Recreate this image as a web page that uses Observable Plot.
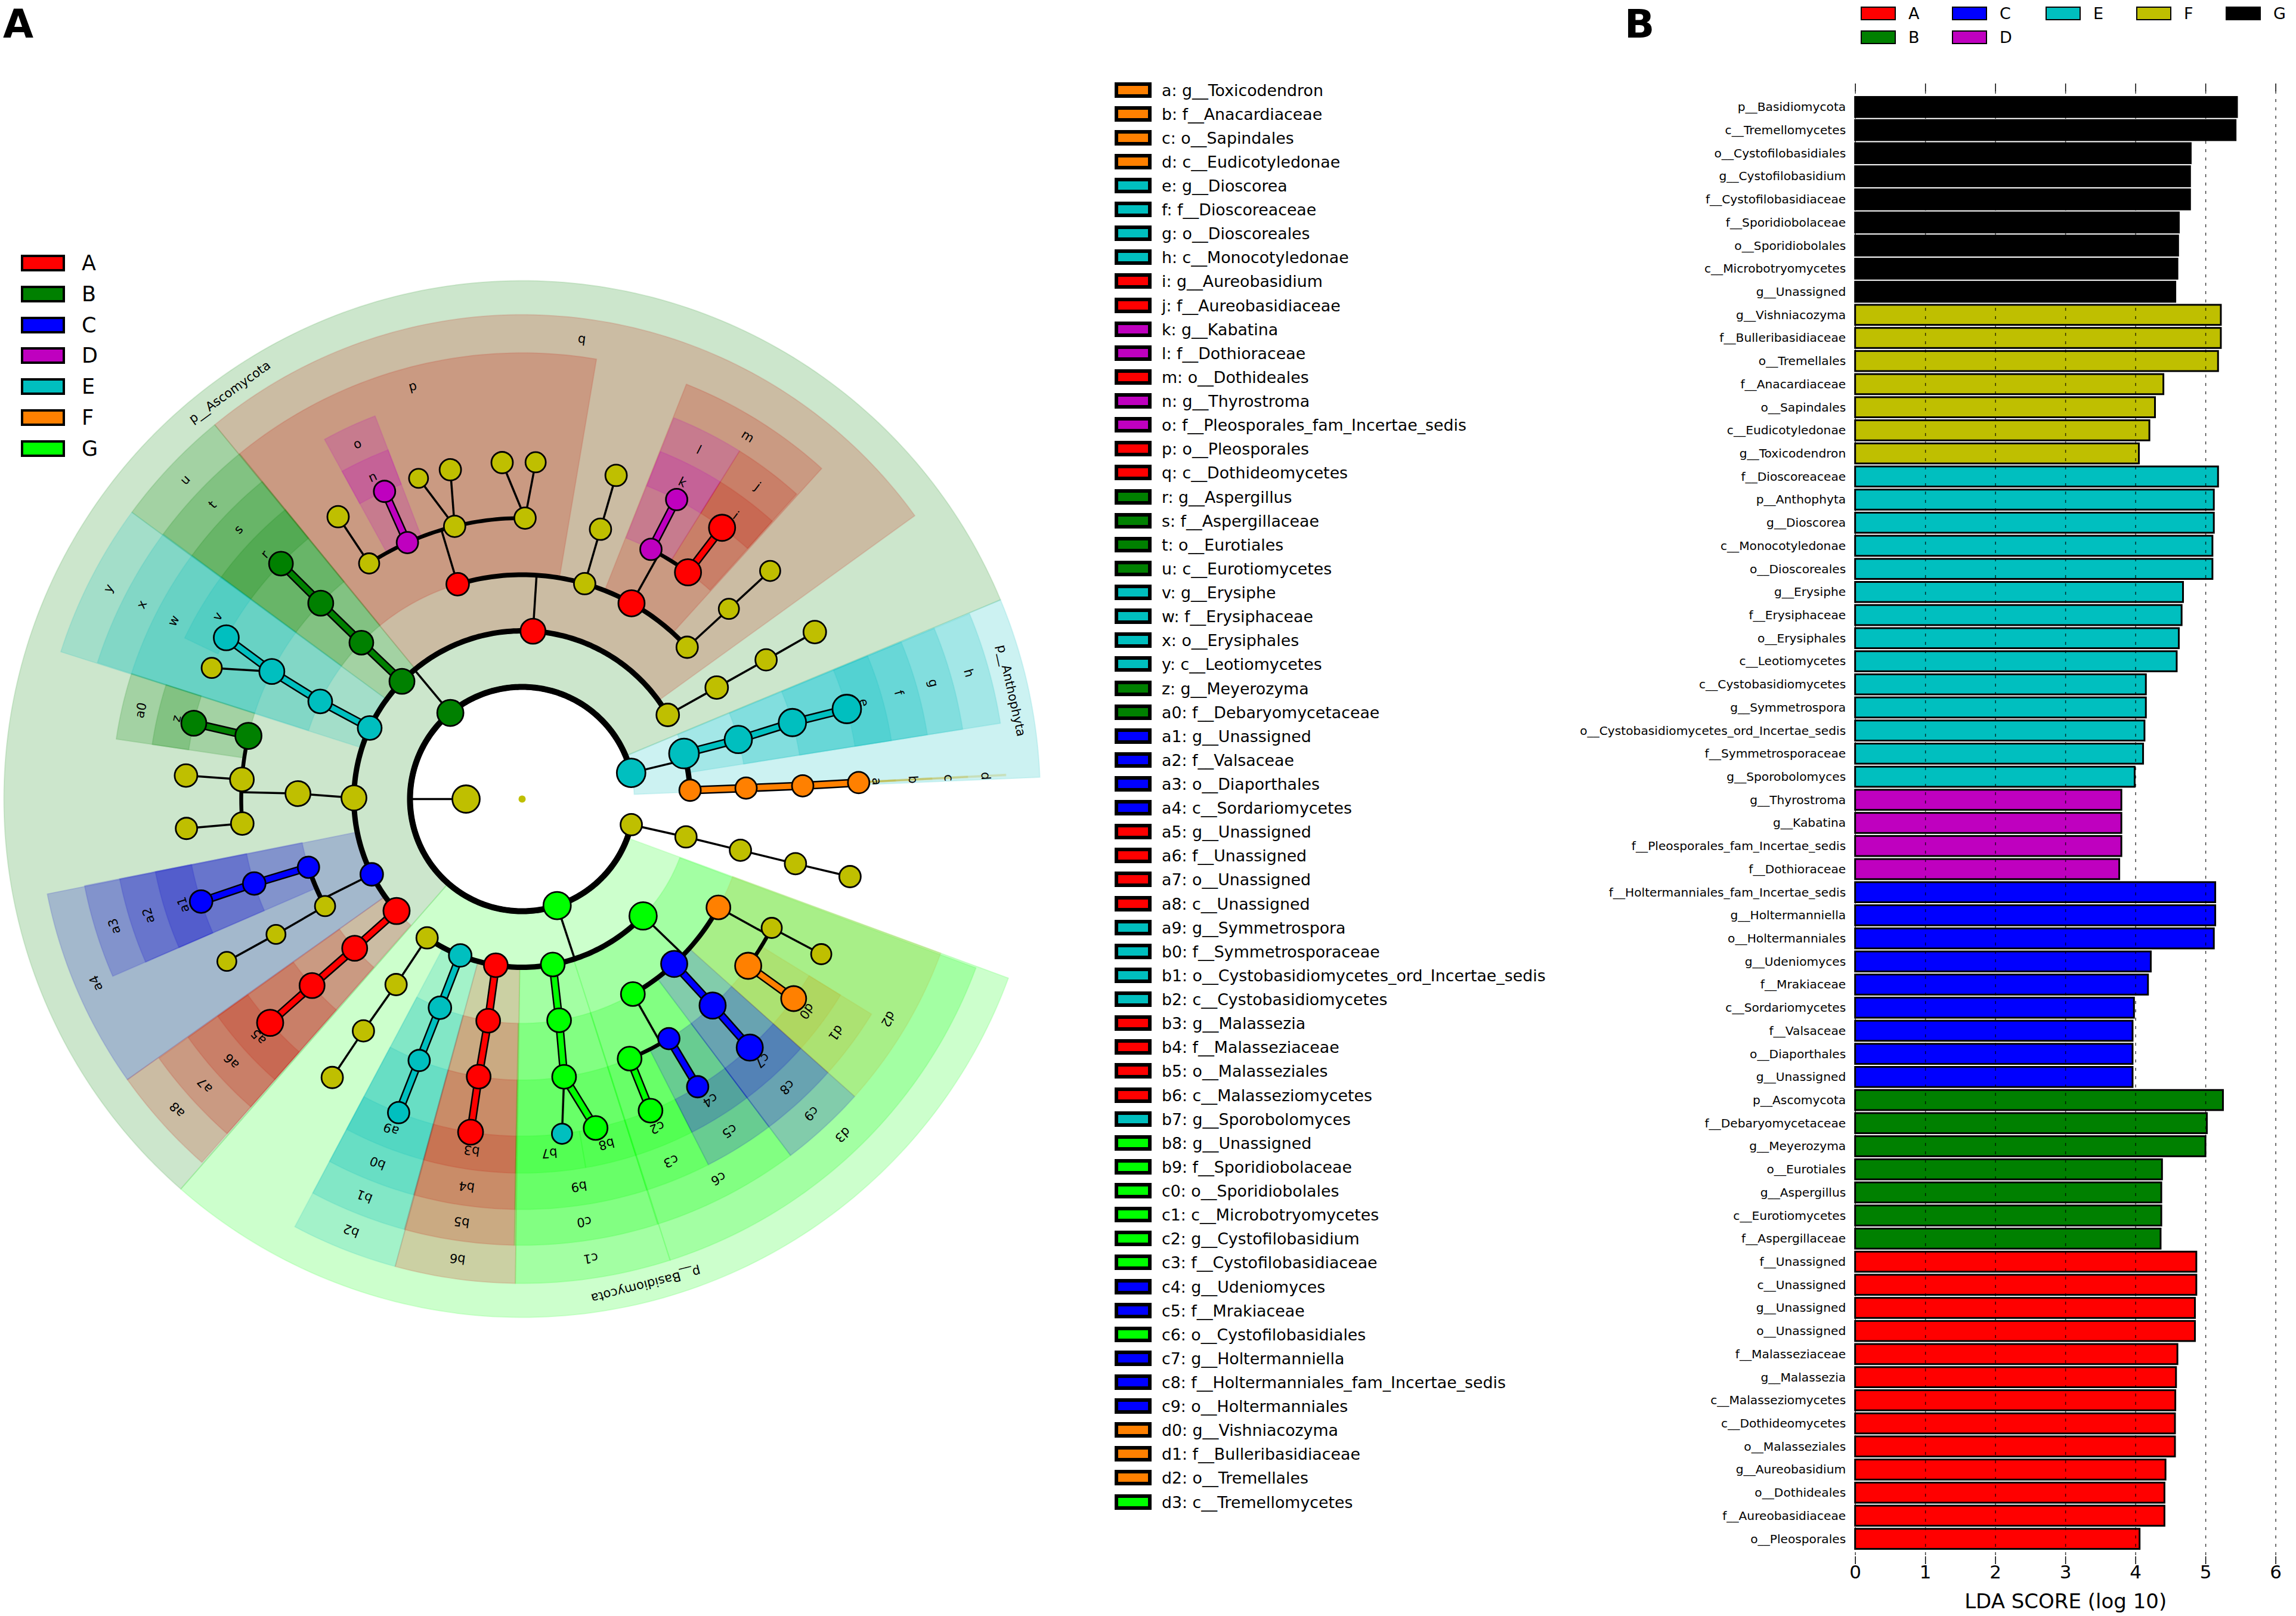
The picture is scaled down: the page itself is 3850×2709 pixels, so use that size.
<!DOCTYPE html>
<html><head><meta charset="utf-8">
<script src="https://cdn.jsdelivr.net/npm/d3@7"></script>
<script src="https://cdn.jsdelivr.net/npm/@observablehq/plot@0.6"></script>
<style>
html,body{margin:0;padding:0;background:#fff;font-family:"DejaVu Sans",sans-serif}
#page{position:relative;width:3850px;height:2709px;overflow:hidden;background:#fff}
#page>svg{position:absolute;background:transparent;overflow:visible}
.sw{position:absolute;box-sizing:border-box;border-style:solid;border-color:#000}
.tx{position:absolute;white-space:nowrap;color:#000;transform:translateY(-50%)}
</style></head><body><div id="page"></div>
<script>
// ---------- shared groups ----------
const groups = ["A","B","C","D","E","F","G"];
const cladeColors = ["#ff0000","#008000","#0000ff","#bf00bf","#00bfbf","#ff8000","#00ff00"];
const wedgeColors = ["#c81400","#008000","#0000cd","#bf00bf","#00bfbf","#c0b020","#00ff00"];
const barColors = ["#ff0000","#008000","#0000ff","#bf00bf","#00bfbf","#bfbf00","#000000"];

// ---------- bar chart (panel B) ----------
const barLabels = ["p__Basidiomycota","c__Tremellomycetes","o__Cystofilobasidiales","g__Cystofilobasidium","f__Cystofilobasidiaceae","f__Sporidiobolaceae","o__Sporidiobolales","c__Microbotryomycetes","g__Unassigned",
"g__Vishniacozyma","f__Bulleribasidiaceae","o__Tremellales","f__Anacardiaceae","o__Sapindales","c__Eudicotyledonae","g__Toxicodendron",
"f__Dioscoreaceae","p__Anthophyta","g__Dioscorea","c__Monocotyledonae","o__Dioscoreales","g__Erysiphe","f__Erysiphaceae","o__Erysiphales","c__Leotiomycetes","c__Cystobasidiomycetes","g__Symmetrospora","o__Cystobasidiomycetes_ord_Incertae_sedis","f__Symmetrosporaceae","g__Sporobolomyces",
"g__Thyrostroma","g__Kabatina","f__Pleosporales_fam_Incertae_sedis","f__Dothioraceae",
"f__Holtermanniales_fam_Incertae_sedis","g__Holtermanniella","o__Holtermanniales","g__Udeniomyces","f__Mrakiaceae","c__Sordariomycetes","f__Valsaceae","o__Diaporthales","g__Unassigned",
"p__Ascomycota","f__Debaryomycetaceae","g__Meyerozyma","o__Eurotiales","g__Aspergillus","c__Eurotiomycetes","f__Aspergillaceae",
"f__Unassigned","c__Unassigned","g__Unassigned","o__Unassigned","f__Malasseziaceae","g__Malassezia","c__Malasseziomycetes","c__Dothideomycetes","o__Malasseziales","g__Aureobasidium","o__Dothideales","f__Aureobasidiaceae","o__Pleosporales"];
const barScores = [5.45,5.43,4.79,4.78,4.78,4.62,4.61,4.60,4.57,
5.22,5.22,5.18,4.40,4.28,4.20,4.05,
5.18,5.12,5.12,5.10,5.10,4.68,4.66,4.62,4.59,4.15,4.15,4.13,4.11,3.99,
3.80,3.80,3.80,3.77,
5.14,5.14,5.12,4.22,4.18,3.98,3.96,3.96,3.96,
5.25,5.02,5.00,4.38,4.37,4.37,4.36,
4.87,4.87,4.85,4.85,4.60,4.58,4.57,4.565,4.565,4.43,4.415,4.415,4.06];
const barGroups = [..."GGGGGGGGG","F","F","F","F","F","F","F",..."EEEEEEEEEEEEEE",..."DDDD",..."CCCCCCCCC",..."BBBBBBB",..."AAAAAAAAAAAAA"];
const xTicks = [0,1,2,3,4,5,6];

// ---------- cladogram (panel A) ----------
const levelRadius = [0,94,188,282,376,471,565];
// node: id, level, angle (deg clockwise from north), group (N = not significant), size, parent
const nodesTree = [
["root",0,0,"N",6,null],["k",1,270,"N",23,"root"],
["P1",2,320.2,"B",22,"k"],["P2",2,76.5,"E",24,"k"],["P3",2,103.2,"N",18,"k"],["P4",2,161.8,"G",23,"k"],
["q",3,3.7,"A",21,"P1"],["u",3,314.4,"B",21,"P1"],["y",3,295,"E",20,"P1"],["n270",3,270.4,"N",21,"P1"],["a4",3,243.4,"C",19,"P1"],["a8",3,228.3,"A",22,"P1"],["n60",3,60,"N",19,"P1"],
["h",3,74.3,"E",25,"P2"],["d",3,87,"F",18,"P2"],
["n103a",3,103,"N",18,"P3"],
["n214",3,214.4,"N",18,"P4"],["b2",3,201.6,"E",19,"P4"],["b6",3,189,"A",20,"P4"],["c1",3,169.5,"G",20,"P4"],["d3",3,134,"G",23,"P4"],
["p",4,343.3,"A",19,"q"],["n16a",4,16.2,"N",18,"q"],["m",4,29.2,"A",22,"q"],["n47a",4,47.4,"N",18,"q"],
["t",4,314.2,"B",20,"u"],["s",5,314.2,"B",21,"t"],["r",6,314.3,"B",20,"s"],
["x",4,295.8,"E",20,"y"],["w",5,297,"E",21,"x"],["v",6,298.6,"E",21,"w"],["nv",6,292.9,"N",17,"w"],
["n270a",4,271.4,"N",21,"n270"],["a0",5,283,"B",22,"n270a"],["n274",5,274,"N",20,"n270a"],["n265",5,265,"N",19,"n270a"],["z",6,283,"B",21,"a0"],["n274b",6,274,"N",19,"n274"],["n265b",6,265,"N",18,"n265"],
["a3",4,252.3,"C",18,"a4"],["n241",4,241.5,"N",17,"a4"],["a2",5,252.5,"C",19,"a3"],["a1",6,252.3,"C",19,"a2"],["n241a",5,241.2,"N",16,"n241"],["n241b",6,241.2,"N",16,"n241a"],
["a7",4,228.3,"A",21,"a8"],["a6",5,228.4,"A",21,"a7"],["a5",6,228.4,"A",22,"a6"],
["n60a",4,60.2,"N",19,"n60"],["n60b",5,60.3,"N",18,"n60a"],["n60c",6,60.3,"N",19,"n60b"],
["p1",5,327,"N",17,"p"],["o",5,335.9,"D",18,"p"],["p3",5,346.1,"N",18,"p"],["p4",5,0.6,"N",18,"p"],
["p1a",6,326.9,"N",18,"p1"],["n",6,335.9,"D",18,"o"],["p3a",6,342.1,"N",16,"p3"],["p3b",6,347.7,"N",18,"p3"],["p4a",6,356.6,"N",18,"p4"],["p4b",6,2.3,"N",17,"p4"],
["n16b",5,16.2,"N",18,"n16a"],["n16c",6,16.2,"N",18,"n16b"],
["l",5,27.3,"D",18,"m"],["j",5,36.2,"A",22,"m"],["k2",6,27.3,"D",18,"l"],["i",6,36.4,"A",22,"j"],
["n47b",5,47.4,"N",17,"n47a"],["n47c",6,47.4,"N",17,"n47b"],
["g",4,74.6,"E",23,"h"],["f",5,74.2,"E",23,"g"],["e",6,74.5,"E",24,"f"],
["c",4,87.2,"F",18,"d"],["b",5,87.3,"F",18,"c"],["a",6,87.2,"F",18,"b"],
["n103b",4,103.2,"N",18,"n103a"],["n103c",5,103.3,"N",18,"n103b"],["n103d",6,103.3,"N",18,"n103c"],
["n214a",4,214.2,"N",18,"n214"],["n214b",5,214.4,"N",18,"n214a"],["n214c",6,214.3,"N",18,"n214b"],
["b1",4,201.5,"E",19,"b2"],["b0",5,201.5,"E",18,"b1"],["a9",6,201.5,"E",18,"b0"],
["b5",4,188.7,"A",20,"b6"],["b4",5,188.9,"A",20,"b5"],["b3",6,188.8,"A",21,"b4"],
["c0",4,170.5,"G",20,"c1"],["b9",5,171.4,"G",20,"c0"],["b7",6,173.2,"E",17,"b9"],["b8",6,167.4,"G",20,"b9"],
["c6",4,150.4,"G",20,"d3"],["c9",4,137.3,"C",22,"d3"],["d2",4,118.9,"F",20,"d3"],
["c3",5,157.5,"G",20,"c6"],["c5",5,148.5,"C",18,"c6"],["c2",6,157.6,"G",20,"c3"],["c4",6,148.6,"C",18,"c5"],
["c8",5,137.3,"C",22,"c9"],["c7",6,137.5,"C",22,"c8"],
["d1",5,126.4,"F",22,"d2"],["n117",5,117.3,"N",17,"d2"],["d0",6,126.3,"F",21,"d1"],["n117b",6,117.4,"N",17,"n117"]
];
const tiers = {p:[188,869,840],c:[282,812,778],o:[376,748,716],f:[471,688,656],g:[565,627,595]};
// wedge: label, tier, from angle, to angle, group
const wedges = [
["p__Ascomycota","p",221.2,427.4,"B"],["p__Anthophyta","p",67.4,87.6,"E"],["p__Basidiomycota","p",110.2,221.2,"G"],
["q","c",320.6,414.2,"A"],["u","c",306.3,320.6,"B"],["y","c",287.7,306.3,"E"],["a4","c",234.6,258.7,"C"],["a8","c",221.4,234.6,"A"],
["b2","c",195.2,208,"E"],["b6","c",180.8,195.2,"A"],["c1","c",162.2,180.8,"G"],["d3","c",110.4,162.2,"G"],["h","c",67.5,81,"E"],["d","c",87.05,87.25,"F"],
["p","o",320.7,369.6,"A"],["m","o",21.6,42.2,"A"],["t","o",306.4,320.7,"B"],["x","o",287.8,306.4,"E"],["a3","o",246.6,258.8,"C"],["a7","o",221.4,234.5,"A"],
["b1","o",195.3,208,"E"],["b5","o",181,195.3,"A"],["c0","o",162.3,181,"G"],["c6","o",143,162.3,"G"],["c9","o",131.8,143,"C"],["d2","o",110.2,131.8,"F"],["g","o",67.5,81,"E"],["c","o",87.05,87.25,"F"],
["o","f",331.2,339,"D"],["l","f",21.7,32,"D"],["j","f",32,42,"A"],["s","f",306.4,320.7,"B"],["w","f",287.8,306.4,"E"],["a0","f",278.4,287.8,"B"],["a2","f",246.6,258.8,"C"],["a6","f",221.4,234.5,"A"],
["b0","f",195.3,208,"E"],["b4","f",181,195.3,"A"],["b9","f",162.3,181,"G"],["c3","f",153,162.3,"G"],["c5","f",143,153,"C"],["c8","f",131.8,143,"C"],["d1","f",121.6,131.8,"F"],["f","f",67.5,81,"E"],["b","f",87.05,87.25,"F"],
["n","g",331.2,339,"D"],["k","g",21.7,32,"D"],["i","g",32,42,"A"],["r","g",306.4,320.7,"B"],["v","g",295.5,306.4,"E"],["z","g",278.4,287.8,"B"],["a1","g",246.6,258.8,"C"],["a5","g",221.4,234.5,"A"],
["a9","g",195.3,208,"E"],["b3","g",181,195.3,"A"],["b7","g",170.2,181,"G"],["b8","g",162.3,170.2,"G"],["c2","g",153,162.3,"G"],["c4","g",143,153,"C"],["c7","g",131.8,143,"C"],["d0","g",121.6,131.8,"F"],["e","g",67.5,81,"E"],["a","g",87.05,87.25,"F"]
];
const cladeKeys = ["a","b","c","d","e","f","g","h","i","j","k","l","m","n","o","p","q","r","s","t","u","v","w","x","y","z","a0","a1","a2","a3","a4","a5","a6","a7","a8","a9","b0","b1","b2","b3","b4","b5","b6","b7","b8","b9","c0","c1","c2","c3","c4","c5","c6","c7","c8","c9","d0","d1","d2","d3"];
const cladeNames = ["g__Toxicodendron","f__Anacardiaceae","o__Sapindales","c__Eudicotyledonae","g__Dioscorea","f__Dioscoreaceae","o__Dioscoreales","c__Monocotyledonae","g__Aureobasidium","f__Aureobasidiaceae","g__Kabatina","f__Dothioraceae","o__Dothideales","g__Thyrostroma","f__Pleosporales_fam_Incertae_sedis","o__Pleosporales","c__Dothideomycetes","g__Aspergillus","f__Aspergillaceae","o__Eurotiales","c__Eurotiomycetes","g__Erysiphe","f__Erysiphaceae","o__Erysiphales","c__Leotiomycetes","g__Meyerozyma","f__Debaryomycetaceae","g__Unassigned","f__Valsaceae","o__Diaporthales","c__Sordariomycetes","g__Unassigned","f__Unassigned","o__Unassigned","c__Unassigned","g__Symmetrospora","f__Symmetrosporaceae","o__Cystobasidiomycetes_ord_Incertae_sedis","c__Cystobasidiomycetes","g__Malassezia","f__Malasseziaceae","o__Malasseziales","c__Malasseziomycetes","g__Sporobolomyces","g__Unassigned","f__Sporidiobolaceae","o__Sporidiobolales","c__Microbotryomycetes","g__Cystofilobasidium","f__Cystofilobasidiaceae","g__Udeniomyces","f__Mrakiaceae","o__Cystofilobasidiales","g__Holtermanniella","f__Holtermanniales_fam_Incertae_sedis","o__Holtermanniales","g__Vishniacozyma","f__Bulleribasidiaceae","o__Tremellales","c__Tremellomycetes"];
const cladeGroups = ["F","F","F","F","E","E","E","E","A","A","D","D","A","D","D","A","A","B","B","B","B","E","E","E","E","B","B","C","C","C","C","A","A","A","A","E","E","E","E","A","A","A","A","E","G","G","G","G","G","G","C","C","G","C","C","C","F","F","F","G"];

// ---------- polar helpers ----------
const px = (r,a) => r*Math.sin(a*Math.PI/180);
const py = (r,a) => -r*Math.cos(a*Math.PI/180);
const arcPoints = (r,a0,a1) => { const n = Math.max(1,Math.ceil(Math.abs(a1-a0))); return d3.range(n+1).map(i => { const a=a0+(a1-a0)*i/n; return [px(r,a),py(r,a)]; }); };

const nodes = nodesTree.map(([id,level,angle,group,size,parent]) => ({id,level,angle,group,size,parent,x:px(levelRadius[level],angle),y:py(levelRadius[level],angle)}));
const byId = new Map(nodes.map(n => [n.id,n]));
const kids = d3.group(nodes.filter(n=>n.parent&&n.parent!=="root"), n=>n.parent);
const thinLinks=[],thickLinks=[],arcs=[];
for (const [pid,ch] of kids) {
  const P = byId.get(pid), L = P.level+1, R = levelRadius[L];
  if (ch.length===1 || P.level===5) {
    for (const c of ch) {
      const e = {x1:P.x,y1:P.y,x2:c.x,y2:c.y,group:c.group};
      (c.group!=="N" && c.group===P.group ? thickLinks : thinLinks).push(e);
    }
  } else {
    thinLinks.push({x1:P.x,y1:P.y,x2:px(R,P.angle),y2:py(R,P.angle)});
    const rel = ch.map(c => ((c.angle-P.angle+540)%360)-180);
    const a0 = P.angle+d3.min(rel), a1 = P.angle+d3.max(rel);
    arcPoints(R,a0,a1).forEach(p=>arcs.push({x:p[0],y:p[1],z:pid,w:L<=3?9:L===4?8:6.5}));
  }
}
const wedgePts = wedges.flatMap(([label,tier,a0,a1,group],i)=>{
  const [r0,r1] = tiers[tier];
  return [...arcPoints(r1,a0,a1),...arcPoints(r0,a1,a0)].map(p=>({x:p[0],y:p[1],z:i,group:"w"+group}));
});
const wedgeLabels = wedges.map(([label,tier,a0,a1])=>{ const a=(a0+a1)/2, r=tiers[tier][2]; return {label,angle:a,x:px(r,a),y:py(r,a)}; });
const colourScale = {domain:[...groups,"N",...groups.map(g=>"w"+g)],range:[...cladeColors,"#bfbf00",...wedgeColors]};

const clade = Plot.plot({
  width:1800,height:2709,margin:0,
  style:{fontFamily:"DejaVu Sans",background:"transparent"},
  x:{domain:[-875,925],range:[0,1800],axis:null},
  y:{domain:[-1339,1370],range:[0,2709],axis:null},
  r:{type:"linear",domain:[0,30],range:[0,30]},
  color:colourScale,
  marks:[
    Plot.line(wedgePts,{x:"x",y:"y",z:"z",fill:"group",fillOpacity:0.2,stroke:"group",strokeOpacity:0.12,strokeWidth:2,curve:"linear-closed"}),
    Plot.line(arcs.filter(d=>d.w===9),{x:"x",y:"y",z:"z",stroke:"black",strokeWidth:9,curve:"linear"}),
    Plot.line(arcs.filter(d=>d.w===8),{x:"x",y:"y",z:"z",stroke:"black",strokeWidth:8,curve:"linear"}),
    Plot.line(arcs.filter(d=>d.w===6.5),{x:"x",y:"y",z:"z",stroke:"black",strokeWidth:6.5,curve:"linear"}),
    Plot.line(arcPoints(188,103.2,436.5).map(p=>({x:p[0],y:p[1]})),{x:"x",y:"y",stroke:"black",strokeWidth:10}),
    Plot.link([{x1:byId.get("k").x,y1:byId.get("k").y,x2:px(188,270),y2:py(188,270)}],{x1:"x1",y1:"y1",x2:"x2",y2:"y2",stroke:"black",strokeWidth:3}),
    Plot.link(thinLinks,{x1:"x1",y1:"y1",x2:"x2",y2:"y2",stroke:"black",strokeWidth:3.5}),
    Plot.link(thickLinks,{x1:"x1",y1:"y1",x2:"x2",y2:"y2",stroke:"black",strokeWidth:14}),
    Plot.link(thickLinks,{x1:"x1",y1:"y1",x2:"x2",y2:"y2",stroke:"group",strokeWidth:9}),
    Plot.dot(nodes.filter(n=>n.level>0),{x:"x",y:"y",r:"size",fill:"group",stroke:"black",strokeWidth:2.8}),
    Plot.dot(nodes.filter(n=>n.level===0),{x:"x",y:"y",r:"size",fill:"group"}),
    Plot.text(wedgeLabels,{x:"x",y:"y",text:"label",rotate:"angle",fontSize:21,fill:"black",textAnchor:"middle",lineAnchor:"middle"})
  ]
});
clade.style.left="0px";clade.style.top="0px";

// ---------- bar plot ----------
const rows = barLabels.map((label,i)=>({i,label,score:barScores[i],group:barGroups[i]}));
const bars = Plot.plot({
  width:1200,height:2709,
  marginLeft:460.7,marginRight:34.4,marginTop:152,marginBottom:100,
  style:{fontFamily:"DejaVu Sans",background:"transparent",color:"black"},
  x:{domain:[0,6],axis:null},
  y:{domain:d3.range(barLabels.length),range:[157.5,2601.5],padding:0.13,axis:null},
  color:{domain:groups,range:barColors},
  marks:[
    Plot.barX(rows,{x:"score",y:"i",fill:"group",stroke:"black",strokeWidth:3}),
    Plot.gridX(xTicks,{stroke:"black",strokeOpacity:0.75,strokeWidth:1.5,strokeDasharray:"5,9"}),
    Plot.axisX({anchor:"top",ticks:xTicks,tickSize:13,tickPadding:0,tickFormat:()=>"",label:null,strokeWidth:1.5}),
    Plot.axisX({anchor:"bottom",ticks:xTicks,tickSize:13,tickPadding:1,fontSize:31,label:null,strokeWidth:1.5,tickFormat:d=>String(d)}),
    Plot.axisY({ticks:d3.range(barLabels.length),tickSize:0,tickPadding:16,fontSize:20.2,label:null,tickFormat:d=>barLabels[d]}),
    Plot.text(["LDA SCORE (log 10)"],{frameAnchor:"bottom",dy:86,fontSize:34,fill:"black"})
  ]
});
bars.style.left="2650px";bars.style.top="0px";

// ---------- page assembly ----------
const page = document.getElementById("page");
page.append(clade,bars);
function swatch(x,y,w,h,c,bw){const s=document.createElement("div");s.className="sw";s.style.cssText=`left:${x}px;top:${y}px;width:${w}px;height:${h}px;background:${c};border-width:${bw}px`;page.append(s);}
function label(x,y,t,fs,extra){const s=document.createElement("div");s.className="tx";s.textContent=t;s.style.cssText=`left:${x}px;top:${y}px;font-size:${fs}px;${extra||""}`;page.append(s);}

label(5,40,"A",66,"font-weight:bold");
label(2724,40,"B",66,"font-weight:bold");

// panel A group legend
groups.forEach((g,i)=>{const cy=441+i*51.8;swatch(35,cy-14,74,28,cladeColors[i],4);label(137,cy,g,35);});

// clade key
cladeKeys.forEach((k,i)=>{const cy=150.5+i*40.12;const c=cladeColors[groups.indexOf(cladeGroups[i])];swatch(1869,cy-13,62,26,c,6);label(1948,cy,k+": "+cladeNames[i],26.8);});

// panel B group legend
const legB=[["A",3120,22],["C",3273,22],["E",3430,22],["F",3582,22],["G",3732,22],["B",3120,62],["D",3273,62]];
legB.forEach(([g,x,cy])=>{swatch(x,cy-11,59,23,barColors[groups.indexOf(g)],2);label(x+80,cy,g,27);});
</script>
</body></html>
